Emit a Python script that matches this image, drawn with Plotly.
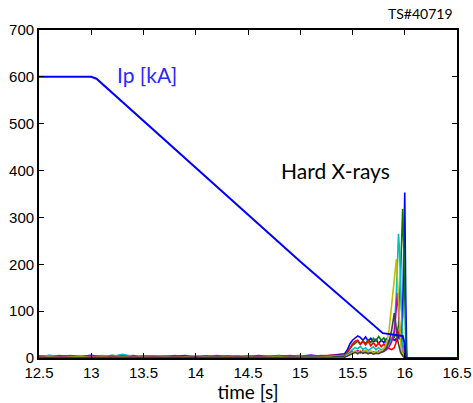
import plotly.graph_objects as go

# ---- Plasma current Ip [kA] ----
ip_t = [12.5, 12.6, 12.7, 12.8, 12.9, 13.0, 13.05, 15.0, 15.79, 15.85, 15.98, 16.0, 16.01, 16.5]
ip_v = [600, 600, 599, 600, 600, 600, 596, 206, 53, 51, 47, 30, 0, 0]

# ---- Hard X-ray channels: common time base ----
hxr_t = [12.5, 12.6, 12.7, 12.8, 12.9, 13.0, 13.1, 13.2, 13.3, 13.4,
         13.5, 13.6, 13.7, 13.8, 13.9, 14.0, 14.1, 14.2, 14.3, 14.4,
         14.5, 14.6, 14.7, 14.8, 14.9, 15.0, 15.1, 15.2, 15.3, 15.4,
         15.425, 15.45, 15.475, 15.5, 15.525, 15.55, 15.575, 15.6, 15.625, 15.65,
         15.675, 15.7, 15.725, 15.75, 15.775, 15.8, 15.825, 15.85, 15.875,
         15.9, 15.91, 15.92, 15.93, 15.94, 15.95, 15.96, 15.97, 15.98, 15.99,
         16.0, 16.01, 16.02, 16.03]

hxr_blue = [3, 5, 2, 4, 3, 6, 2, 3, 4, 2, 3, 4, 2, 3, 5, 2, 3, 2, 4, 3,
            2, 5, 3, 4, 3, 4, 6, 3, 5, 7,
            9, 17, 30, 38, 42, 47, 44, 38, 45, 36, 42, 34, 40, 31, 38, 33, 41, 35, 42,
            38, 40, 36, 42, 45, 40, 48, 60, 90, 200, 353, 120, 0, 0]
hxr_green = [2, 3, 5, 2, 4, 3, 2, 6, 3, 2, 4, 3, 2, 5, 2, 3, 4, 2, 3, 2,
             4, 2, 3, 5, 2, 4, 3, 5, 4, 6,
             6, 12, 20, 27, 31, 36, 29, 37, 31, 39, 33, 42, 36, 46, 38, 43, 31, 37, 41,
             44, 50, 48, 55, 70, 110, 180, 260, 318, 240, 120, 30, 0, 0]
hxr_red = [4, 2, 3, 5, 2, 3, 4, 2, 3, 5, 2, 3, 4, 2, 3, 2, 4, 3, 2, 4,
           3, 2, 4, 3, 4, 5, 3, 4, 6, 5,
           5, 12, 22, 30, 36, 38, 30, 35, 28, 36, 26, 33, 25, 32, 24, 30, 22, 20, 18,
           22, 28, 35, 45, 55, 60, 48, 40, 30, 20, 10, 0, 0, 0]
hxr_cyan = [2, 6, 3, 2, 4, 2, 5, 3, 8, 3, 2, 4, 3, 2, 3, 4, 2, 3, 2, 3,
            2, 3, 4, 2, 3, 5, 2, 3, 4, 5,
            4, 8, 14, 18, 22, 20, 25, 18, 22, 16, 20, 24, 18, 22, 17, 20, 24, 30, 40,
            60, 90, 140, 200, 265, 230, 150, 80, 30, 10, 5, 0, 0, 0]
hxr_magenta = [3, 2, 4, 3, 2, 4, 3, 2, 4, 2, 3, 2, 3, 4, 2, 3, 2, 5, 3, 2,
               3, 4, 2, 3, 5, 3, 6, 4, 3, 5,
               3, 6, 10, 14, 12, 16, 11, 15, 12, 14, 10, 13, 11, 15, 12, 14, 18, 24, 35,
               55, 80, 110, 139, 100, 70, 40, 20, 8, 4, 0, 0, 0, 0]
hxr_yellow = [1, 2, 1, 2, 3, 1, 2, 1, 2, 1, 2, 1, 2, 1, 2, 1, 2, 1, 2, 1,
              2, 1, 2, 3, 1, 2, 1, 2, 3, 4,
              2, 5, 8, 12, 15, 11, 16, 12, 17, 13, 15, 11, 14, 12, 15, 20, 30, 60, 110,
              160, 190, 211, 170, 120, 70, 35, 15, 6, 3, 0, 0, 0, 0]
hxr_gray = [1, 1, 2, 1, 1, 2, 1, 1, 1, 2, 1, 1, 2, 1, 1, 1, 2, 1, 1, 1,
            2, 1, 1, 2, 1, 1, 2, 1, 2, 3,
            2, 4, 7, 10, 12, 9, 13, 10, 12, 9, 11, 8, 10, 9, 12, 15, 22, 35, 60,
            96, 80, 55, 40, 30, 20, 12, 8, 4, 2, 0, 0, 0, 0]

channels = [
    (hxr_blue, "rgb(0,0,255)"),
    (hxr_green, "rgb(0,128,0)"),
    (hxr_red, "rgb(255,0,0)"),
    (hxr_cyan, "rgb(0,191,191)"),
    (hxr_magenta, "rgb(191,0,191)"),
    (hxr_yellow, "rgb(191,191,0)"),
    (hxr_gray, "rgb(64,64,64)"),
]

x_ticks = [12.5, 13, 13.5, 14, 14.5, 15, 15.5, 16, 16.5]
x_tick_labels = ["12.5", "13", "13.5", "14", "14.5", "15", "15.5", "16", "16.5"]
y_ticks = [0, 100, 200, 300, 400, 500, 600, 700]

fig = go.Figure()
for vals, col in channels:
    fig.add_trace(go.Scatter(x=hxr_t, y=vals, mode="lines",
                             line=dict(color=col, width=1.6), showlegend=False))
fig.add_trace(go.Scatter(x=ip_t, y=ip_v, mode="lines",
                         line=dict(color="rgb(0,0,255)", width=2), showlegend=False))

axis_common = dict(showline=True, linecolor="black", linewidth=1.8, mirror="ticks",
                   ticks="inside", ticklen=5, tickcolor="black", showgrid=False,
                   zeroline=False, automargin=False,
                   tickfont=dict(family="Liberation Sans, Arial", size=15, color="black"))

fig.update_xaxes(range=[12.5, 16.5], tickvals=x_ticks, ticktext=x_tick_labels,
                 title=dict(text="time [s]", standoff=6,
                            font=dict(family="Lato", size=19, color="black")),
                 **axis_common)
fig.update_yaxes(range=[0, 700], tickvals=y_ticks, **axis_common)

fig.add_annotation(x=13.53, y=604, xref="x", yref="y", text="Ip [kA]", showarrow=False,
                   font=dict(family="Lato", size=21, color="rgb(40,40,255)"))
fig.add_annotation(x=15.34, y=401, xref="x", yref="y", text="Hard X-rays", showarrow=False,
                   font=dict(family="Lato", size=21, color="black"))
fig.add_annotation(x=0.995, y=1.049, xref="paper", yref="paper", text="TS#40719",
                   showarrow=False, xanchor="right", yanchor="middle",
                   font=dict(family="Lato", size=14, color="black"))

fig.update_layout(width=473, height=403, margin=dict(l=39, r=16, t=30, b=45, autoexpand=False),
                  paper_bgcolor="white", plot_bgcolor="white")

fig.write_html("out.html", config={"displayModeBar": False},
               post_script="document.body.style.margin='0';")
